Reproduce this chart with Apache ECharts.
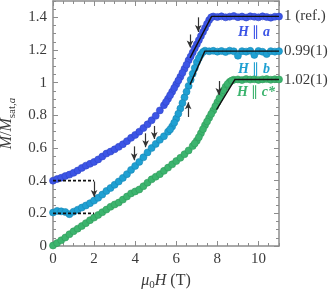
<!DOCTYPE html>
<html><head><meta charset="utf-8">
<script src="https://cdn.jsdelivr.net/npm/echarts@6/dist/echarts.min.js"></script>
<style>html,body{margin:0;padding:0;background:#fff}#c{width:335px;height:296px}</style>
</head><body><div id="c"></div>
<script>
// ---- data ----
const fieldT = [0,0.2,0.4,0.6,0.8,1.0,1.2,1.4,1.6,1.8,2.0,2.2,2.4,2.6,2.8,3.0,3.2,3.4,3.6,3.8,4.0,4.2,4.4,4.6,4.8,5.0,5.2,5.4,5.6,5.8,6.0,6.2,6.4,6.6,6.8,7.0,7.2,7.4,7.6,7.8,8.0,8.2,8.4,8.6,8.8,9.0,9.2,9.4,9.6,9.8,10.0,10.2,10.4,10.6,10.8,11.0];
const magA = [0.400,0.410,0.418,0.428,0.437,0.448,0.462,0.478,0.492,0.503,0.515,0.530,0.548,0.566,0.578,0.592,0.607,0.623,0.642,0.662,0.680,0.700,0.722,0.745,0.770,0.797,0.830,0.862,0.902,0.945,0.990,1.036,1.085,1.137,1.185,1.235,1.285,1.335,1.383,1.405,1.402,1.406,1.400,1.404,1.408,1.401,1.405,1.399,1.406,1.403,1.400,1.406,1.402,1.398,1.404,1.405];
const magB = [0.205,0.215,0.212,0.208,0.195,0.210,0.222,0.235,0.248,0.262,0.278,0.295,0.315,0.337,0.355,0.375,0.395,0.417,0.440,0.466,0.490,0.515,0.543,0.573,0.600,0.625,0.650,0.672,0.700,0.732,0.780,0.842,0.910,0.980,1.055,1.125,1.172,1.196,1.192,1.195,1.190,1.194,1.188,1.196,1.192,1.165,1.193,1.190,1.195,1.170,1.194,1.189,1.175,1.193,1.190,1.193];
const magC = [0.003,0.018,0.035,0.052,0.072,0.090,0.106,0.122,0.140,0.158,0.174,0.190,0.207,0.223,0.240,0.254,0.266,0.284,0.303,0.322,0.334,0.346,0.366,0.388,0.408,0.424,0.440,0.460,0.480,0.500,0.520,0.540,0.562,0.585,0.612,0.645,0.690,0.740,0.785,0.830,0.880,0.930,0.975,1.005,1.018,1.020,1.016,1.022,1.019,1.021,1.017,1.020,1.022,1.018,1.021,1.020];
// extra points measured in the steep parts
const steepFieldA = [5.5,5.7,5.9,6.1,6.3,6.5,6.7,6.9,7.1,7.3,7.5,7.7];
const steepMagA = [0.882,0.923,0.967,1.013,1.060,1.110,1.160,1.210,1.260,1.310,1.360,1.400];
const steepFieldB = [5.7,5.9,6.1,6.3,6.5,6.7,6.9,7.1,7.3];
const steepMagB = [0.714,0.755,0.810,0.875,0.945,1.018,1.090,1.150,1.188];
const steepFieldC = [6.9,7.1,7.3,7.5,7.7,7.9,8.1,8.3,8.5,8.7];
const steepMagC = [0.628,0.666,0.715,0.762,0.808,0.855,0.905,0.953,0.992,1.013];
// fitted guide lines (field, M)
const fitA = [[6.67,1.152],[7.72,1.406],[11,1.406]];
const fitB = [[6.67,0.988],[7.39,1.193],[11,1.193]];
const fitC = [[7.96,0.835],[8.85,1.019],[11,1.019]];
const ratioLabels = ['1 (ref.)','0.99(1)','1.02(1)'];
const dirLabels = ['a','b','c*'];
// arrows: [field, from, to]
const arrows = [[7.07,1.40,1.31],[6.67,1.295,1.215],[6.58,0.79,0.88],[3.95,0.61,0.525],[4.51,0.69,0.605],[4.93,0.735,0.655],[2.0,0.395,0.30],[8.07,1.01,0.925]];
const dashedLevels = [0.4,0.2];
const dashedRange = [0,2];
// ---------------------------------------
const colors = ['#3c55e6','#1fa0d2','#3cb46e'];
const edge = ['#2f45c8','#1787b5','#2f9a5a'];
const serif = 'Liberation Serif';
const axisGray = '#8c8c8c';
const txt = '#3a3a3a';

function pairs(xs, ys){ return xs.map((x,i)=>[x,ys[i]]); }

function mkX(pos, interval, len, showLine, showLabel){
  return {type:'value', position:pos, min:0, max:11, interval:interval,
    axisLine:{show:showLine, onZero:false, lineStyle:{color:axisGray,width:1.5}},
    axisTick:{show:true, inside:true, length:len, lineStyle:{color:axisGray,width:1}},
    axisLabel:{show:showLabel, showMaxLabel:false, margin:6, color:txt, fontFamily:serif, fontSize:15},
    splitLine:{show:false}};
}
function mkY(pos, interval, len, showLine, showLabel){
  return {type:'value', position:pos, min:0, max:1.5, interval:interval,
    axisLine:{show:showLine, onZero:false, lineStyle:{color:axisGray,width:1.5}},
    axisTick:{show:true, inside:true, length:len, lineStyle:{color:axisGray,width:1}},
    axisLabel:{show:showLabel, showMaxLabel:false, margin:6, color:txt, fontFamily:serif, fontSize:15,
      formatter:v=>String(Math.round(v*10)/10)},
    splitLine:{show:false}};
}

const xAxes = [mkX('bottom',2,5,true,true), mkX('bottom',0.5,3,false,false), mkX('top',2,5,true,false), mkX('top',0.5,3,false,false)];
xAxes[0].name = '{i|μ}{s|0}{i|H} (T)';
xAxes[0].nameLocation = 'middle';
xAxes[0].nameGap = 24;
xAxes[0].nameTextStyle = {fontFamily:serif, fontSize:16, color:txt,
  rich:{i:{fontFamily:serif,fontStyle:'italic',fontSize:16,color:txt}, s:{fontFamily:serif,fontSize:11,color:txt,padding:[10,0,0,0]}}};
const yAxes = [mkY('left',0.2,5,true,true), mkY('left',0.05,3,false,false), mkY('right',0.2,5,true,false), mkY('right',0.05,3,false,false)];
yAxes[0].name = '{i|M}/{i|M}{s|sat,}{si|a}';
yAxes[0].nameLocation = 'middle';
yAxes[0].nameGap = 30;
yAxes[0].nameTextStyle = {fontFamily:serif, fontSize:16, color:txt,
  rich:{i:{fontFamily:serif,fontStyle:'italic',fontSize:16,color:txt},
        s:{fontFamily:serif,fontSize:11,color:txt,padding:[10,0,0,0]},
        si:{fontFamily:serif,fontStyle:'italic',fontSize:11,color:txt,padding:[10,0,0,0]}}};

const mags = [pairs(fieldT,magA).concat(pairs(steepFieldA,steepMagA)),
              pairs(fieldT,magB).concat(pairs(steepFieldB,steepMagB)),
              pairs(fieldT,magC).concat(pairs(steepFieldC,steepMagC))];
const fits = [fitA,fitB,fitC];
const series = [];
mags.forEach((m,i)=>{
  series.push({type:'scatter', data:m, symbolSize:7, clip:false,
    itemStyle:{color:colors[i], borderColor:edge[i], borderWidth:0.6, opacity:1}, z:2+i, silent:true});
});
fits.forEach((f,i)=>{
  series.push({type:'line', data:f, symbol:'none', z:10, silent:true,
    lineStyle:{color:'#111',width:1.4},
    endLabel:{show:true, formatter:ratioLabels[i], distance:5, color:txt, fontFamily:serif, fontSize:15}});
});
dashedLevels.forEach(v=>{
  series.push({type:'line', data:[[dashedRange[0],v],[dashedRange[1],v]], symbol:'none', z:11, silent:true,
    lineStyle:{color:'#111',width:1.6,type:[3,2]}});
});
series.push({type:'line', data:[], z:12, silent:true,
  markLine:{silent:true, symbol:['none','arrow'], symbolSize:[5,7], animation:false,
    label:{show:false}, lineStyle:{color:'#333',width:1.2,type:'solid'},
    data: arrows.map(a=>[{coord:[a[0],a[1]]},{coord:[a[0],a[2]]}])}});

const chart = echarts.init(document.getElementById('c'), null, {renderer:'canvas'});
chart.setOption({
  animation:false,
  grid:{left:53,right:56,top:1,bottom:50,outerBoundsMode:'none',containLabel:false},
  xAxis:xAxes, yAxis:yAxes, series:series,
  graphic: dirLabels.map((d,i)=>({type:'text', x:[254,254,256][i], y:[32,69,92][i],
    style:{text:'{b|H} ∥ {b|'+d+'}', fill:colors[i], font:'14px '+serif, align:'center', verticalAlign:'middle',
      rich:{b:{fontFamily:serif,fontStyle:'italic',fontWeight:'bold',fontSize:14,fill:colors[i]}}}, z:20}))
});
</script></body></html>
